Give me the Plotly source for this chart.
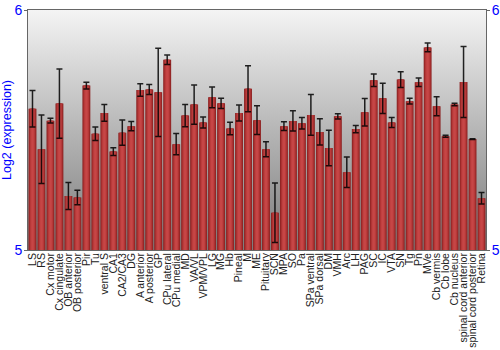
import plotly.graph_objects as go

categories = ["LS", "RS", "Cx motor", "Cx cingulate", "OB anterior", "OB posterior", "Pir", "Tu",
              "ventral S", "CA1", "CA2/CA3", "DG", "A anterior", "A posterior", "GP", "CPu lateral",
              "CPu medial", "MD", "VA/VL", "VPM/VPL", "LG", "MG", "Hb", "Pineal", "M", "ME",
              "Pituitary", "SCN", "MPA", "SO", "Pa", "SPa ventral", "SPa dorsal", "DM", "VMH", "Arc",
              "LH", "PAG", "SC", "IC", "VTA", "SN", "Tg", "Pn", "MVe", "Cb vermis", "Cb lobe",
              "Cb nucleus", "spinal cord anterior", "spinal cord posterior", "Retina"]

values = [5.589, 5.420, 5.539, 5.610, 5.225, 5.219, 5.685, 5.484,
          5.571, 5.410, 5.489, 5.516, 5.667, 5.669, 5.657, 5.793,
          5.441, 5.560, 5.606, 5.531, 5.636, 5.611, 5.506, 5.571, 5.672, 5.541,
          5.420, 5.155, 5.516, 5.538, 5.528, 5.563, 5.492, 5.425, 5.557, 5.324,
          5.504, 5.574, 5.707, 5.632, 5.531, 5.710, 5.620, 5.699, 5.844, 5.599, 5.474,
          5.606, 5.700, 5.462, 5.216]

errors = [0.076, 0.143, 0.010, 0.144, 0.056, 0.030, 0.014, 0.028,
          0.035, 0.016, 0.053, 0.019, 0.026, 0.021, 0.184, 0.020,
          0.044, 0.046, 0.082, 0.023, 0.043, 0.021, 0.026, 0.033, 0.096, 0.060,
          0.031, 0.124, 0.018, 0.042, 0.024, 0.085, 0.055, 0.074, 0.011, 0.064,
          0.015, 0.057, 0.026, 0.063, 0.021, 0.033, 0.012, 0.018, 0.018, 0.040, 0.004,
          0.005, 0.148, 0.002, 0.024]

y_ticks = [5, 6]

fig = go.Figure()

# gradient background of plot area
fig.add_trace(go.Scatter(
    x=[0, 1, 1, 0, 0], y=[5, 5, 6, 6, 5], xaxis="x", yaxis="y",
    mode="lines", fill="toself", line=dict(width=0),
    fillgradient=dict(type="vertical", colorscale=[[0, "#7c7c7c"], [0.5, "#b6b6b6"], [1, "#f4f4f4"]]),
    hoverinfo="skip", showlegend=False))

# layered bars to imitate horizontal shading
layers = [(0.88, "#8a2222"), (0.74, "#a02c2c"), (0.58, "#b23636"), (0.42, "#be3f3f"), (0.24, "#c64646")]
for i, (w, c) in enumerate(layers):
    kw = {}
    if i == len(layers) - 1:
        kw["error_y"] = dict(type="data", array=errors, color="rgba(0,0,0,0.85)", thickness=1.5, width=3)
    fig.add_trace(go.Bar(x=categories, y=values, xaxis="x2", yaxis="y2", width=w,
                         marker=dict(color=c, line=dict(width=0)), showlegend=False, **kw))

fig.update_layout(
    width=500, height=350,
    margin=dict(l=28, r=14, t=10, b=100, autoexpand=False),
    paper_bgcolor="white", plot_bgcolor="white",
    barmode="overlay",
    font=dict(family="Liberation Sans, Arial, sans-serif"),
    xaxis=dict(range=[0, 1], showgrid=False, zeroline=False, showticklabels=False, ticks="",
               showline=True, linecolor="#666", linewidth=1, mirror=True, fixedrange=True,
               automargin=False),
    yaxis=dict(range=[5, 6], tickvals=y_ticks, ticks="outside", ticklen=3, tickcolor="#666",
               tickfont=dict(color="blue", size=14), showgrid=False, zeroline=False,
               showline=True, linecolor="#666", linewidth=1, automargin=False,
               ticklabelstandoff=-1,
               title=dict(text="Log2 (expression)", font=dict(color="blue", size=12.5), standoff=2)),
    xaxis2=dict(overlaying="x", anchor="y2", type="category", range=[-0.5, len(categories) - 0.5],
                tickmode="array", tickvals=categories, ticktext=categories,
                tickangle=-90, tickfont=dict(size=10.5, color="#222"), ticks="", showgrid=False,
                zeroline=False, showline=False, automargin=False),
    yaxis2=dict(overlaying="y", anchor="x2", side="right", range=[5, 6], tickvals=y_ticks,
                ticks="outside", ticklen=3, tickcolor="#666", tickfont=dict(color="blue", size=14),
                showgrid=False, zeroline=False, showline=True, linecolor="#666", linewidth=1,
                ticklabelstandoff=-1, automargin=False),
)

fig.write_html("out.html")
